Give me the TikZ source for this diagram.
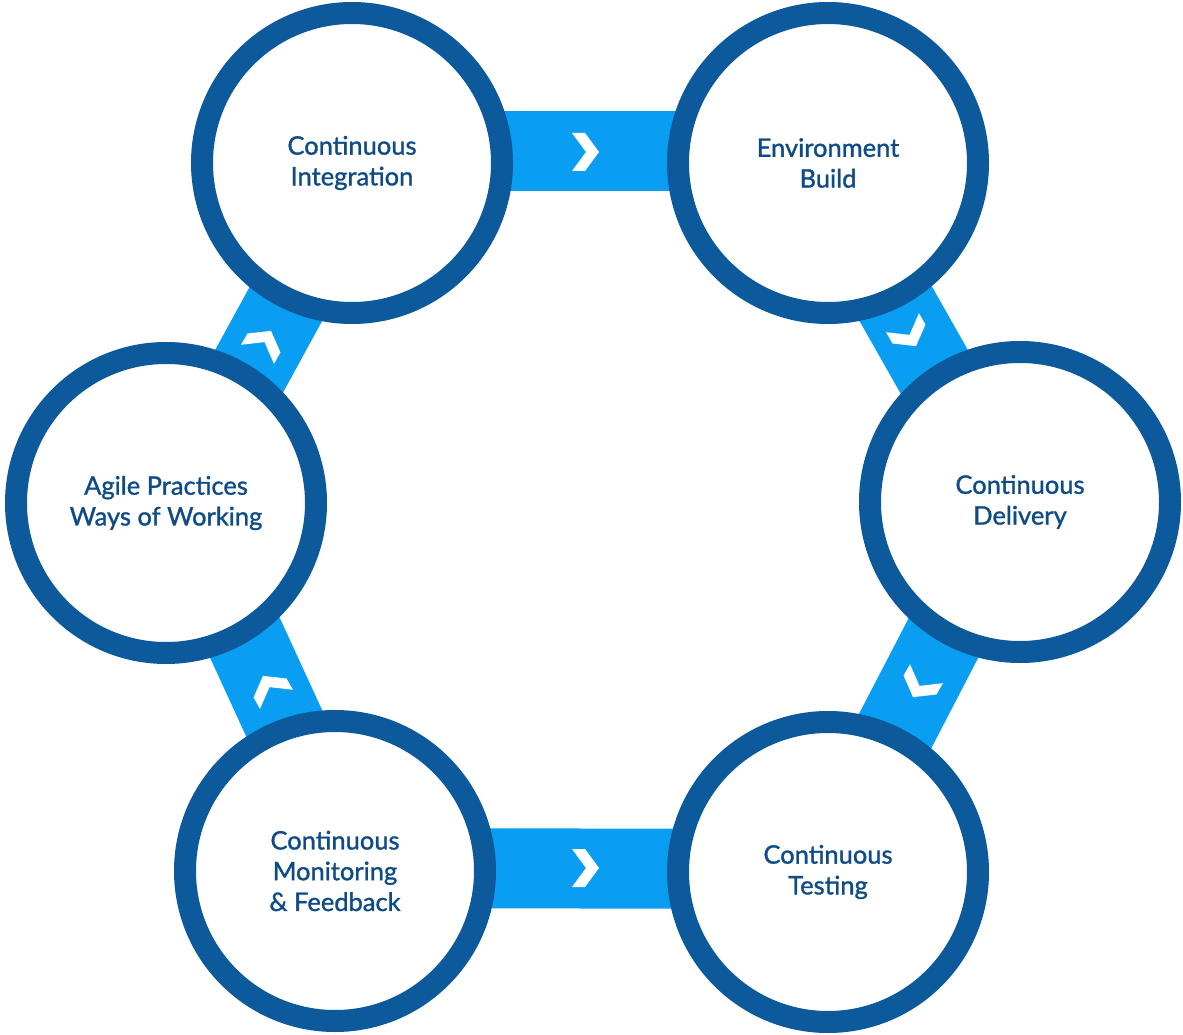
\documentclass[tikz,border=0pt]{standalone}
\usepackage{fontspec}
\setmainfont{Lato}[BoldFont=Lato, BoldFeatures={FakeBold=1.2}]
\usepackage{tikz}
\usetikzlibrary{calc, backgrounds}
\definecolor{ringblue}{HTML}{0C5A9B}
\definecolor{bandblue}{HTML}{0A9EF3}
\definecolor{textblue}{HTML}{0F4C87}

\tikzset{
    stage/.style={circle, draw=ringblue, line width=4.4mm, fill=white,
        minimum size=60mm, inner sep=0pt, align=center, text=textblue,
        font=\fontsize{14.5}{17.5}\selectfont\bfseries},
    band/.style={draw=bandblue, line width=16mm},
    chev/.style={fill=white}
}

\begin{document}
\begin{tikzpicture}[x=0.2mm, y=-0.2mm]
    \useasboundingbox (0,0) rectangle (1183,1035);

    \node[stage] (ci)    at (352,163)  {Continuous\\Integration};
    \node[stage] (env)   at (828,163)  {Environment\\Build};
    \node[stage] (cd)    at (1020,502) {Continuous\\Delivery};
    \node[stage] (ct)    at (828,872)  {Continuous\\Testing};
    \node[stage] (mon)   at (335,871)  {Continuous\\Monitoring\\\& Feedback};
    \node[stage] (agile) at (166,503)  {Agile Practices\\Ways of Working};

    % bands behind the circles
    \begin{scope}[on background layer]
    \foreach \a/\b/\dx/\dy in {
        ci/env/0/-12, env/cd/-12/0, cd/ct/-6/0,
        mon/ct/0/-3, agile/mon/17/0, agile/ci/11/0}
        \draw[band] ($(\a)+(\dx,\dy)$) -- ($(\b)+(\dx,\dy)$);
    \end{scope}

    \foreach \x/\y/\r in {
        585/152/0, 909/334/-60, 920/685/-120,
        585/868/0, 270/688/120, 264/343/60}
        \fill[chev, shift={(\x,\y)}, rotate=\r]
        (-13,-19) -- (0,-19) -- (14,0) -- (0,19) -- (-13,19) -- (1,0) -- cycle;

\end{tikzpicture}
\end{document}
